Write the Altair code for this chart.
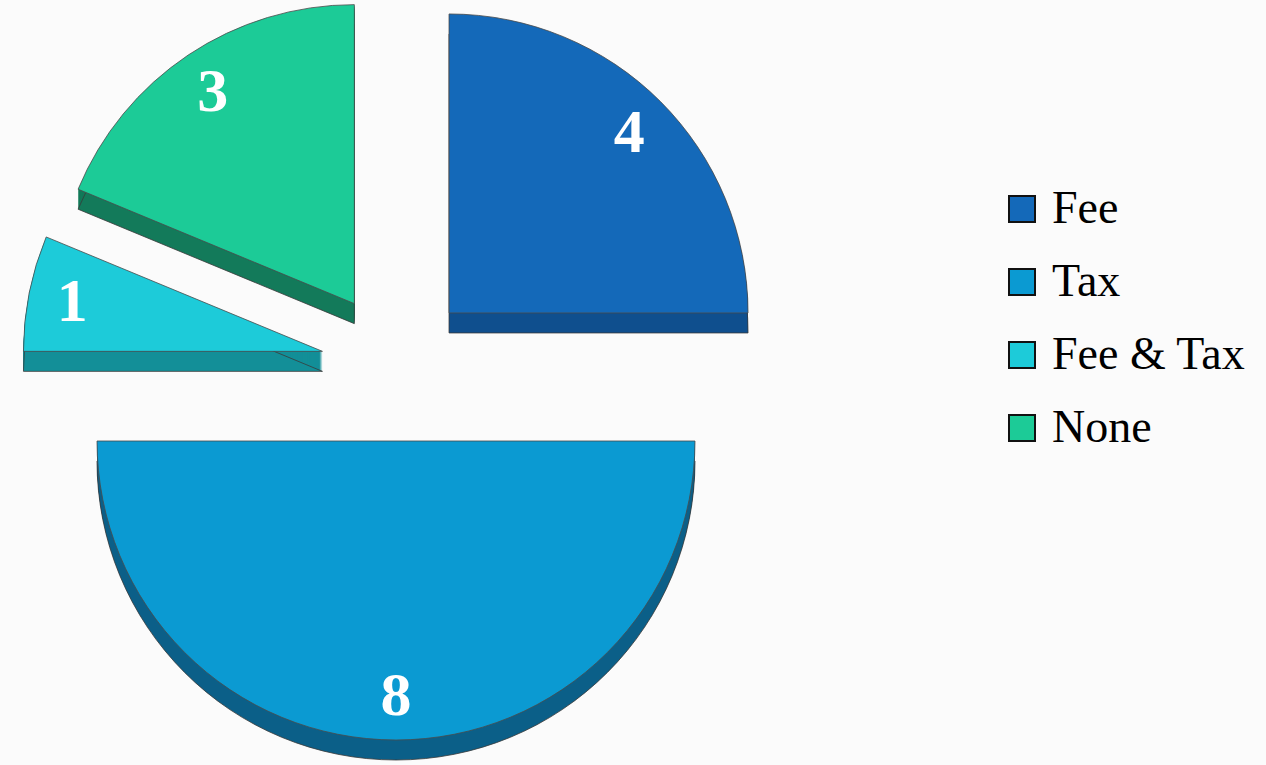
import altair as alt
import pandas as pd

# ---- data ----
categories = ["Fee", "Tax", "Fee & Tax", "None"]
values = [4, 8, 1, 3]
top_colors = ["#1469b9", "#0b9ad2", "#1dcbd9", "#1ccb97"]
side_colors = ["#0f4f8e", "#0b5f88", "#138f98", "#137a5a"]

# ---- style / layout constants ----
CX, CY = 396, 366       # pie centre (px)
R = 299                 # radius (px)
EXPLODE = 75            # explode distance (px)
DEPTH = 20              # 3D thickness (px)
LABEL_R = 255           # label distance from slice apex

df = pd.DataFrame({
    "category": categories,
    "value": values,
    "order": list(range(len(categories))),
    "side": side_colors,
})

base = (
    alt.Chart(df)
    .transform_window(cum="sum(value)", sort=[alt.SortField("order")], frame=[None, 0])
    .transform_joinaggregate(total="sum(value)")
    .transform_calculate(
        start="(datum.cum - datum.value) / datum.total * 2 * PI",
        end="datum.cum / datum.total * 2 * PI",
    )
    .transform_calculate(mid="(datum.start + datum.end) / 2")
    .transform_calculate(
        cx=f"{CX} + {EXPLODE} * sin(datum.mid)",
        cy=f"{CY} - {EXPLODE} * cos(datum.mid)",
    )
)

layers = []
for d in range(1, DEPTH + 1):
    last = d == DEPTH
    layers.append(
        base.transform_calculate(cyd=f"datum.cy + {d}")
        .mark_arc(radius=R, stroke="#3a3a3a" if last else None, strokeWidth=0.8 if last else 0)
        .encode(
            theta=alt.Theta("start:Q", scale=None),
            theta2="end:Q",
            x=alt.X("cx:Q", scale=None),
            y=alt.Y("cyd:Q", scale=None),
            fill=alt.Fill("side:N", scale=None),
        )
    )

top = base.mark_arc(radius=R, stroke="#4a4a4a", strokeWidth=0.8, opacity=1).encode(
    theta=alt.Theta("start:Q", scale=None),
    theta2="end:Q",
    x=alt.X("cx:Q", scale=None),
    y=alt.Y("cy:Q", scale=None),
    color=alt.Color(
        "category:N",
        scale=alt.Scale(domain=categories, range=top_colors),
        legend=alt.Legend(
            title=None,
            orient="none",
            legendX=999,
            legendY=186,
            symbolType="square",
            symbolSize=676,
            symbolStrokeColor="#111111",
            symbolStrokeWidth=2,
            symbolOpacity=1,
            labelFont="Liberation Serif",
            labelFontSize=46,
            labelColor="#000000",
            labelOffset=7,
            rowPadding=27,
            labelLimit=400,
        ),
    ),
)

labels = (
    base.transform_calculate(
        lx=f"datum.cx + {LABEL_R} * sin(datum.mid)",
        ly=f"datum.cy - {LABEL_R} * cos(datum.mid)",
    )
    .mark_text(font="Liberation Serif", fontSize=62, fontWeight="bold", color="white",
               baseline="middle", align="center")
    .encode(
        x=alt.X("lx:Q", scale=None),
        y=alt.Y("ly:Q", scale=None),
        text=alt.Text("value:Q"),
    )
)

chart = (
    alt.layer(*layers, top, labels)
    .properties(width=1266, height=765, padding=0, autosize="none", background="#fbfbfb")
    .configure_view(stroke=None)
)

chart.save("out.html", embed_options={"renderer": "svg", "actions": False})
